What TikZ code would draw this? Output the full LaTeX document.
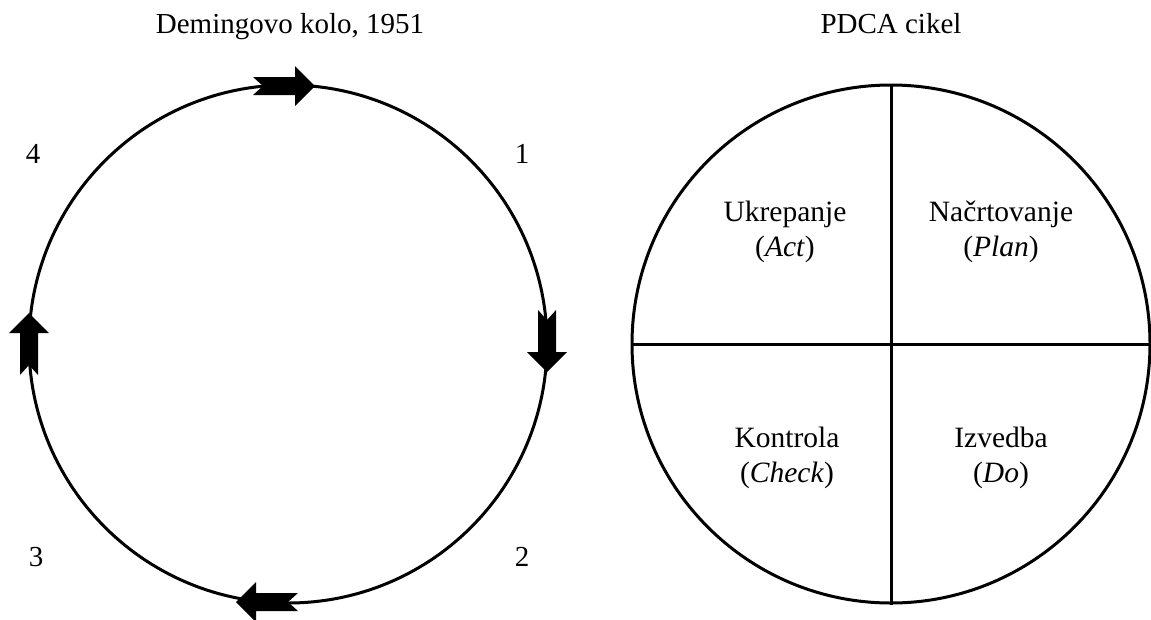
\documentclass[tikz,border=0pt]{standalone}
\usepackage{fontspec}
\setmainfont{Liberation Serif}
\usetikzlibrary{positioning}

\tikzset{
	wheel/.style={circle, draw, line width=3pt, minimum size=518pt, inner sep=0pt},
	lbl/.style={inner sep=0pt, anchor=base, font=\fontsize{29}{35}\selectfont},
	quad/.style={inner sep=0pt, align=center, font=\fontsize{29.5}{35.5}\selectfont}
}

\begin{document}
\begin{tikzpicture}[x=1pt, y=-1pt]
	\useasboundingbox (0,0) rectangle (1151,619);
		% left: Deming wheel
		\node[wheel] (deming) at (288,344) {};
		\node[lbl] (t1) at (290,33) {Demingovo kolo, 1951};
		\node[lbl] (n1) at (522,163) {1};
		\node[lbl] (n2) at (522,566) {2};
		\node[lbl] (n3) at (36,566) {3};
		\node[lbl] (n4) at (33,163) {4};
		\foreach \x/\y/\a in {315/86/0, 547/372/-90, 236/602/180, 29/313/90}
			\fill[shift={(\x,\y)}, rotate=\a] (0,0) -- (-20,20) -- (-20,9) -- (-62,9) -- (-52,0)
				-- (-62,-9) -- (-20,-9) -- (-20,-20) -- cycle;
		% right: PDCA cycle
		\node[wheel] (pdca) at (891,344) {};
		\node[lbl] (t2) at (891,33) {PDCA cikel};
		\draw[line width=3pt] (pdca.north) -- (pdca.south);
		\draw[line width=3pt] (pdca.west) -- (pdca.east);
		\node[quad] (act) at (785,232) {Ukrepanje\\(\textit{Act})};
		\node[quad] (plan) at (1001,232) {Načrtovanje\\(\textit{Plan})};
		\node[quad] (check) at (787,458) {Kontrola\\(\textit{Check})};
		\node[quad] (do) at (1001,458) {Izvedba\\(\textit{Do})};
\end{tikzpicture}
\end{document}
